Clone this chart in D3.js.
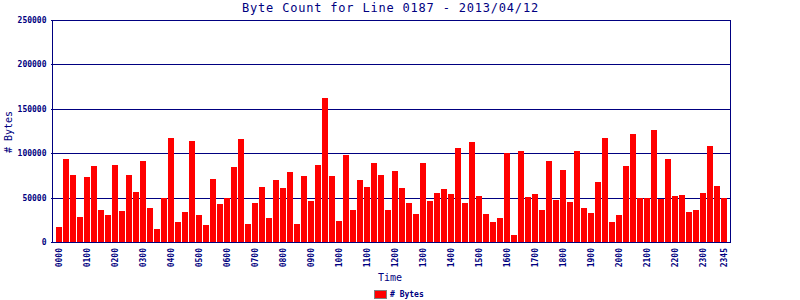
<!DOCTYPE html>
<html><head><meta charset="utf-8">
<script src="https://cdn.jsdelivr.net/npm/d3@7"></script>
<style>body{margin:0;background:#fff}svg{display:block}</style>
</head><body>
<svg id="c" width="800" height="300"></svg>
<script>
const title = "Byte Count for Line 0187 - 2013/04/12";
const seriesName = "# Bytes";
const times = [];
for (let h = 0; h < 24; h++) for (const m of ["00","15","30","45"]) times.push(String(h).padStart(2,"0") + m);
const bytes = [
 18000, 94000, 76000, 28500, 73500, 86000, 36400, 30800, 87000, 35300, 76000, 56600,
 91500, 38600, 15000, 49900, 117400, 22900, 34100, 114000, 30800, 19500, 71300, 43100,
 49900, 84800, 116300, 20600, 44300, 62300, 27400, 70100, 61100, 79100, 20600, 74600,
 46500, 87000, 162400, 74600, 24000, 98300, 36400, 70100, 62300, 89300, 75800, 36400,
 80300, 61100, 44300, 31900, 89300, 46500, 55500, 60000, 54400, 106100, 44300, 112900,
 52100, 31900, 22900, 27400, 100500, 8300, 102800, 51000, 54400, 36400, 91500, 47600,
 81400, 45400, 102800, 38600, 33000, 67900, 117400, 22900, 30800, 85900, 121900, 49900,
 49900, 126400, 48800, 93800, 52100, 53300, 34100, 36400, 55500, 108400, 63400, 49900
];
const yTicks = [0, 50000, 100000, 150000, 200000, 250000];

const navy = "#000080";
const svg = d3.select("#c");
const pLeft = 52, pRight = 730, pTop = 20.5, pBottom = 242.5;

const x = d3.scaleBand().domain(times).range([56, 727]).paddingInner(1/7).paddingOuter(0);
const y = d3.scaleLinear().domain([0, 250000]).range([pBottom, pTop]);

// gridlines
svg.append("g").selectAll("line").data(yTicks.filter(d => d > 0)).join("line")
  .attr("x1", pLeft).attr("x2", pRight)
  .attr("y1", d => Math.floor(y(d)) + 0.5).attr("y2", d => Math.floor(y(d)) + 0.5)
  .attr("stroke", navy).attr("shape-rendering", "crispEdges");

// bars
svg.append("g").selectAll("rect").data(bytes).join("rect")
  .attr("x", (d, i) => x(times[i]))
  .attr("width", x.bandwidth())
  .attr("y", d => Math.round(y(d)))
  .attr("height", d => 242 - Math.round(y(d)))
  .attr("fill", "#ff0000").attr("shape-rendering", "crispEdges");

// axes lines
const axisG = svg.append("g").attr("stroke", navy).attr("shape-rendering", "crispEdges");
axisG.append("line").attr("x1", pLeft + 0.5).attr("x2", pLeft + 0.5).attr("y1", 20).attr("y2", 243);
axisG.append("line").attr("x1", pRight + 0.5).attr("x2", pRight + 0.5).attr("y1", 20).attr("y2", 243);
axisG.append("line").attr("x1", pLeft).attr("x2", pRight + 1).attr("y1", 242.5).attr("y2", 242.5);

// y axis ticks + labels
const yAxis = d3.axisLeft(y).tickValues(yTicks).tickSize(2).tickFormat(d3.format("d"));
const ya = svg.append("g").attr("transform", `translate(${pLeft + 0.5},0)`).call(yAxis);
ya.select(".domain").remove();
ya.selectAll(".tick").attr("transform", d => `translate(0,${Math.floor(y(d)) + 0.5})`);
ya.selectAll(".tick line").attr("stroke", navy).attr("shape-rendering", "crispEdges");
ya.selectAll(".tick text").attr("fill", navy).attr("x", -6)
  .style("font", "bold 8px 'DejaVu Sans Mono'");

// x axis ticks + labels
const xLabels = times.filter((t, i) => i % 4 === 0 || i === times.length - 1);
const xAxis = d3.axisBottom(x).tickValues(xLabels).tickSize(0);
const xa = svg.append("g").attr("transform", `translate(0,242)`).call(xAxis);
xa.select(".domain").remove();
xa.selectAll(".tick text")
  .attr("fill", navy)
  .attr("transform", "rotate(-90)")
  .attr("x", -6).attr("y", 0).attr("dy", "0.35em")
  .attr("text-anchor", "end")
  .style("font", "bold 8px 'DejaVu Sans Mono'");

// title
svg.append("text").attr("x", 390.5).attr("y", 12).attr("text-anchor", "middle")
  .attr("fill", navy).style("font", "12px 'DejaVu Sans Mono'").style("letter-spacing", "0.8px").text(title);

// axis titles
svg.append("text").attr("x", 390).attr("y", 281).attr("text-anchor", "middle")
  .attr("fill", navy).style("font", "10px 'DejaVu Sans Mono'").text("Time");
svg.append("text").attr("transform", "translate(11.5,132) rotate(-90)").attr("text-anchor", "middle")
  .attr("fill", navy).style("font", "10px 'DejaVu Sans Mono'").text("# Bytes");

// legend
svg.append("rect").attr("x", 374.5).attr("y", 290.5).attr("width", 12).attr("height", 8)
  .attr("fill", "#ff0000").attr("stroke", "#808080").attr("shape-rendering", "crispEdges");
svg.append("text").attr("x", 390).attr("y", 297).attr("fill", navy)
  .style("font", "bold 8px 'DejaVu Sans Mono'").text(seriesName);
</script>
</body></html>
